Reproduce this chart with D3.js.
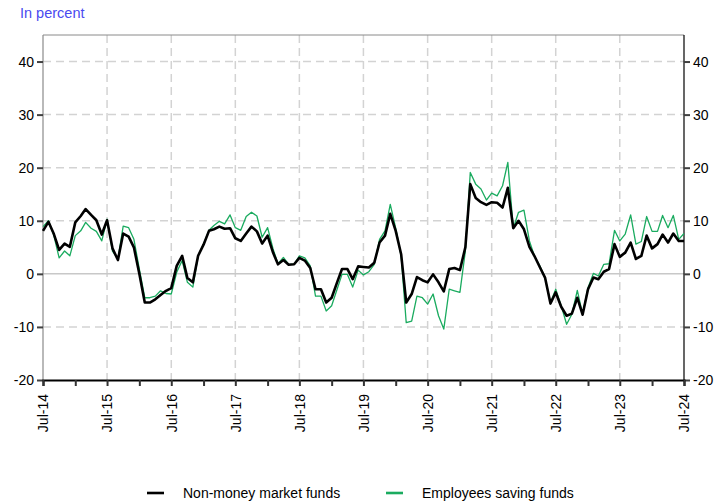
<!DOCTYPE html>
<html><head><meta charset="utf-8">
<script src="https://cdn.jsdelivr.net/npm/d3@7"></script>
<style>body{margin:0;background:#fff;} svg{display:block;font-family:"Liberation Sans",Arial,sans-serif;}</style>
</head><body>
<svg id="c" width="722" height="504"></svg>
<script>
const startMonth = new Date(2014, 6, 1);
const endMonth = new Date(2024, 6, 1);
const yTicks = [-20, -10, 0, 10, 20, 30, 40];
const seriesNames = ["Non-money market funds", "Employees saving funds"];
const nonMoney = [8.1,9.8,7.5,4.5,5.7,5.1,9.7,10.9,12.2,11.1,10.1,7.4,10.1,4.8,2.6,7.6,7.0,5.0,0.0,-5.4,-5.4,-4.8,-4.0,-3.2,-2.7,1.5,3.4,-0.8,-1.6,3.4,5.5,8.1,8.4,8.9,8.5,8.6,6.7,6.2,7.6,8.9,8.0,5.7,7.2,4.0,1.8,2.6,1.7,1.8,3.0,2.5,1.1,-2.9,-2.9,-5.4,-4.5,-1.6,0.9,0.9,-1.0,1.4,1.3,1.2,2.1,5.9,7.2,11.3,8.1,3.7,-5.4,-3.8,-0.6,-1.2,-1.6,-0.1,-1.6,-3.3,0.9,1.1,0.7,5.0,16.9,14.3,13.5,13.0,13.5,13.4,12.5,16.2,8.6,10.0,8.4,5.1,3.4,1.3,-0.7,-5.6,-3.5,-6.2,-7.9,-7.5,-4.5,-7.7,-2.9,-0.7,-1.0,0.4,0.9,5.6,3.2,4.0,5.9,2.8,3.4,7.2,4.8,5.6,7.4,5.9,7.6,6.2,6.2];
const employees = [8.9,10.0,7.2,3.0,4.3,3.4,7.2,8.1,9.7,8.6,8.0,6.2,10.3,4.3,2.8,9.0,8.7,6.5,0.9,-4.5,-4.5,-4.2,-3.2,-3.7,-3.8,0.3,2.5,-1.6,-2.5,3.4,5.6,8.2,9.1,9.9,9.4,11.1,8.7,8.2,10.8,11.6,10.9,6.9,8.7,4.7,1.9,3.1,1.8,1.8,3.4,3.0,1.5,-4.2,-4.2,-7.0,-6.0,-2.9,-0.1,-0.1,-2.5,0.7,-0.2,0.4,1.8,6.5,8.1,13.1,8.6,3.4,-9.2,-8.9,-4.2,-4.5,-5.7,-3.8,-7.9,-10.4,-2.9,-3.2,-3.5,4.3,19.1,16.9,16.0,13.9,15.2,14.7,16.6,21.0,8.6,11.6,12.0,6.2,3.4,1.5,-0.7,-5.4,-2.9,-6.0,-9.5,-7.6,-3.1,-7.6,-2.6,0.1,-0.4,1.8,1.9,8.2,6.2,7.5,11.1,5.6,6.1,10.8,8.0,8.0,11.0,8.7,11.0,6.5,7.6];
const colors = ["#000000", "#1aab5f"];

const months = d3.timeMonth.range(startMonth, d3.timeMonth.offset(endMonth, 1));
const svg = d3.select("#c");
const L = 43, R = 684, T = 35, B = 380;
const x = d3.scaleTime().domain([startMonth, endMonth]).range([L, R]);
const y = d3.scaleLinear().domain([-20, 45]).range([B, T]);

const julys = months.filter(d => d.getMonth() === 6);
const halfYears = months.filter(d => d.getMonth() % 6 === 0);

// grid
const g = svg.append("g");
g.selectAll(".vg").data(julys.filter((d,i)=>i>0 && i<julys.length-1)).join("line")
  .attr("x1", d=>x(d)).attr("x2", d=>x(d)).attr("y1", T).attr("y2", B)
  .attr("stroke", "#d3d3d3").attr("stroke-width", 1.5).attr("stroke-dasharray", "8,5");
g.selectAll(".hg").data(yTicks.filter(v=>v>-20)).join("line")
  .attr("x1", L).attr("x2", R).attr("y1", d=>y(d)).attr("y2", d=>y(d))
  .attr("stroke", d=>d===0?"#c8c8c8":"#d3d3d3").attr("stroke-width", 1.5)
  .attr("stroke-dasharray", d=>d===0?null:"8,5");

// frame
svg.append("line").attr("x1", L).attr("x2", R).attr("y1", T).attr("y2", T).attr("stroke", "#8a8a8a").attr("stroke-width", 1);
svg.append("line").attr("x1", L).attr("x2", L).attr("y1", T).attr("y2", B).attr("stroke", "#8a8a8a").attr("stroke-width", 1.2);
svg.append("line").attr("x1", R).attr("x2", R).attr("y1", T).attr("y2", B).attr("stroke", "#000").attr("stroke-width", 1.2);

// lines
const line = d3.line().x((d,i)=>x(months[i])).y(d=>y(d));
svg.append("path").datum(employees).attr("d", line).attr("fill","none")
  .attr("stroke", colors[1]).attr("stroke-width", 1.3).attr("stroke-linejoin","round");
svg.append("path").datum(nonMoney).attr("d", line).attr("fill","none")
  .attr("stroke", colors[0]).attr("stroke-width", 2.6).attr("stroke-linejoin","round");

const yFmt = d => String(d);
// left axis
const ly = svg.append("g").attr("transform", `translate(${L},0)`)
  .call(d3.axisLeft(y).tickValues(yTicks).tickSize(6).tickPadding(3).tickFormat(yFmt));
ly.select(".domain").remove();
ly.selectAll(".tick line").attr("stroke", "#404040").attr("stroke-width", 2);
ly.selectAll(".tick text").attr("font-size", 14).attr("fill", "#000").attr("font-family", "Liberation Sans, Arial, sans-serif");
const ry = svg.append("g").attr("transform", `translate(${R},0)`)
  .call(d3.axisRight(y).tickValues(yTicks).tickSize(6).tickPadding(3).tickFormat(yFmt));
ry.select(".domain").remove();
ry.selectAll(".tick line").attr("stroke", "#404040").attr("stroke-width", 2);
ry.selectAll(".tick text").attr("font-size", 14).attr("fill", "#000").attr("font-family", "Liberation Sans, Arial, sans-serif");

// bottom axis
const bx = svg.append("g").attr("transform", `translate(0,${B})`)
  .call(d3.axisBottom(x).tickValues(halfYears).tickSize(6).tickFormat(""));
bx.select(".domain").attr("stroke", "#000").attr("stroke-width", 2);
bx.selectAll(".tick line").attr("stroke", "#333").attr("stroke-width", 2);
const fmt = d3.timeFormat("%b-%y");
const bl = svg.append("g").attr("transform", `translate(0,${B})`)
  .call(d3.axisBottom(x).tickValues(julys).tickSize(0).tickFormat(fmt));
bl.select(".domain").remove();
bl.selectAll(".tick text").attr("font-size", 14).attr("fill", "#000")
  .attr("font-family", "Liberation Sans, Arial, sans-serif")
  .attr("transform", "rotate(-90)").attr("text-anchor", "end")
  .attr("x", -14).attr("y", 0).attr("dy", "0.35em");

// title
svg.append("text").attr("x", 20).attr("y", 18).text("In percent")
  .attr("font-size", 14.5).attr("fill", "#4a4af0");

// legend
const leg = [{x:147, tx:183}, {x:386, tx:422}];
leg.forEach((p,i)=>{
  svg.append("line").attr("x1", p.x).attr("x2", p.x+17).attr("y1", 493).attr("y2", 493)
    .attr("stroke", colors[i]).attr("stroke-width", 2.6);
  svg.append("text").attr("x", p.tx).attr("y", 498).text(seriesNames[i])
    .attr("font-size", 14).attr("fill", "#000");
});
</script>
</body></html>
